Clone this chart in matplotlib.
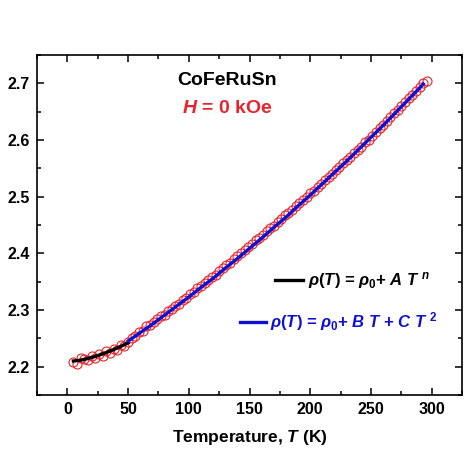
import numpy as np
import matplotlib
matplotlib.use("Agg")
import matplotlib.pyplot as plt
from matplotlib.ticker import MultipleLocator

plt.rcParams['font.family'] = 'Liberation Sans'
plt.rcParams['font.weight'] = 'bold'
plt.rcParams['mathtext.fontset'] = 'custom'
plt.rcParams['mathtext.rm'] = 'Liberation Sans:bold'
plt.rcParams['mathtext.it'] = 'Liberation Sans:bold:italic'
plt.rcParams['mathtext.bf'] = 'Liberation Sans:bold'

temp_data = [5, 8, 11, 14, 17, 20, 23, 26, 29, 32, 35, 38, 41, 44, 47, 50,
             53, 56, 59, 62, 65, 68, 71, 74, 77, 80, 83, 86, 89, 92, 95, 98,
             101, 104, 107, 110, 113, 116, 119, 122, 125, 128, 131, 134, 137,
             140, 143, 146, 149, 152, 155, 158, 161, 164, 167, 170, 173, 176,
             179, 182, 185, 188, 191, 194, 197, 200, 203, 206, 209, 212, 215,
             218, 221, 224, 227, 230, 233, 236, 239, 242, 245, 248, 251, 254,
             257, 260, 263, 266, 269, 272, 275, 278, 281, 284, 287, 290, 293, 296]
rho_data = [2.208, 2.204, 2.216, 2.213, 2.211, 2.218, 2.215, 2.222, 2.219, 2.228,
            2.225, 2.232, 2.229, 2.238, 2.236, 2.244, 2.251, 2.255, 2.262, 2.263,
            2.271, 2.274, 2.279, 2.284, 2.290, 2.291, 2.299, 2.302, 2.307, 2.311,
            2.318, 2.321, 2.328, 2.331, 2.338, 2.343, 2.347, 2.353, 2.359, 2.362,
            2.369, 2.374, 2.379, 2.383, 2.390, 2.395, 2.400, 2.406, 2.411, 2.416,
            2.423, 2.427, 2.433, 2.439, 2.444, 2.449, 2.456, 2.460, 2.467, 2.472,
            2.477, 2.483, 2.489, 2.494, 2.500, 2.506, 2.511, 2.518, 2.523, 2.530,
            2.535, 2.541, 2.547, 2.553, 2.559, 2.565, 2.570, 2.577, 2.583, 2.588,
            2.596, 2.601, 2.608, 2.614, 2.621, 2.627, 2.634, 2.641, 2.647, 2.654,
            2.661, 2.667, 2.674, 2.680, 2.687, 2.694, 2.701, 2.705]

# low temperature fit rho0 + A T^n
temp_low = [5, 10, 15, 20, 25, 30, 35, 40, 45, 50]
rho_low = [2.210, 2.2112, 2.2134, 2.2161, 2.2195, 2.2232, 2.2274, 2.2319, 2.2368, 2.242]

# high temperature fit rho0 + B T + C T^2
temp_high = [50, 60, 70, 80, 90, 100, 110, 120, 130, 140, 150, 160, 170, 180,
             190, 200, 210, 220, 230, 240, 250, 260, 270, 280, 290, 293]
rho_high = [2.245, 2.260, 2.275, 2.291, 2.307, 2.323, 2.340, 2.356, 2.374, 2.391,
            2.409, 2.427, 2.446, 2.464, 2.484, 2.503, 2.523, 2.543, 2.563, 2.584,
            2.605, 2.626, 2.648, 2.670, 2.692, 2.699]

fig = plt.figure(figsize=(4.74, 4.74), dpi=100)
ax = fig.add_axes([0.078, 0.1667, 0.897, 0.717])

ax.plot(temp_data, rho_data, 'o', mfc='none', mec='#e8242a', mew=0.8, ms=6.5, zorder=2)
l1, = ax.plot(temp_low, rho_low, '-', color='black', lw=2.4, zorder=3,
              label=r'$\rho(T)$ = $\rho_0$+ $A$ $T^{\ n}$')
l2, = ax.plot(temp_high, rho_high, '-', color='#1010d0', lw=2.4, zorder=3,
              label=r'$\rho(T)$ = $\rho_0$+ $B$ $T$ + $C$ $T^{\ 2}$')

ax.set_xlim(-25, 325)
ax.set_ylim(2.15, 2.75)
ax.xaxis.set_major_locator(MultipleLocator(50))
ax.xaxis.set_minor_locator(MultipleLocator(25))
ax.yaxis.set_major_locator(MultipleLocator(0.1))
ax.yaxis.set_minor_locator(MultipleLocator(0.05))
ax.tick_params(which='both', direction='in', top=True, right=True, width=1.1,
               labelsize=11.5)
ax.tick_params(which='major', length=5, pad=5)
ax.tick_params(which='minor', length=3)
for s in ax.spines.values():
    s.set_linewidth(1.2)
for lab in ax.get_xticklabels() + ax.get_yticklabels():
    lab.set_fontweight('bold')

ax.set_xlabel(r'Temperature, $T$ (K)', fontsize=12.5, fontweight='bold', labelpad=8)

ax.text(0.447, 0.925, 'CoFeRuSn', transform=ax.transAxes, ha='center', va='center',
        fontsize=14, fontweight='bold', color='black')
ax.text(0.447, 0.843, r'$H$ = 0 kOe', transform=ax.transAxes, ha='center', va='center',
        fontsize=14, fontweight='bold', color='#e8242a')

# two single-entry legends so that both are right aligned like the original
leg1 = ax.legend(handles=[l1], loc='center right', bbox_to_anchor=(0.925, 0.336),
                 frameon=False, fontsize=12, labelcolor='linecolor',
                 handlelength=1.7, handletextpad=0.3, borderpad=0, borderaxespad=0)
ax.add_artist(leg1)
ax.legend(handles=[l2], loc='center right', bbox_to_anchor=(0.942, 0.216),
          frameon=False, fontsize=12, labelcolor='linecolor',
          handlelength=1.6, handletextpad=0.25, borderpad=0, borderaxespad=0)

fig.savefig('out.png', dpi=100)
